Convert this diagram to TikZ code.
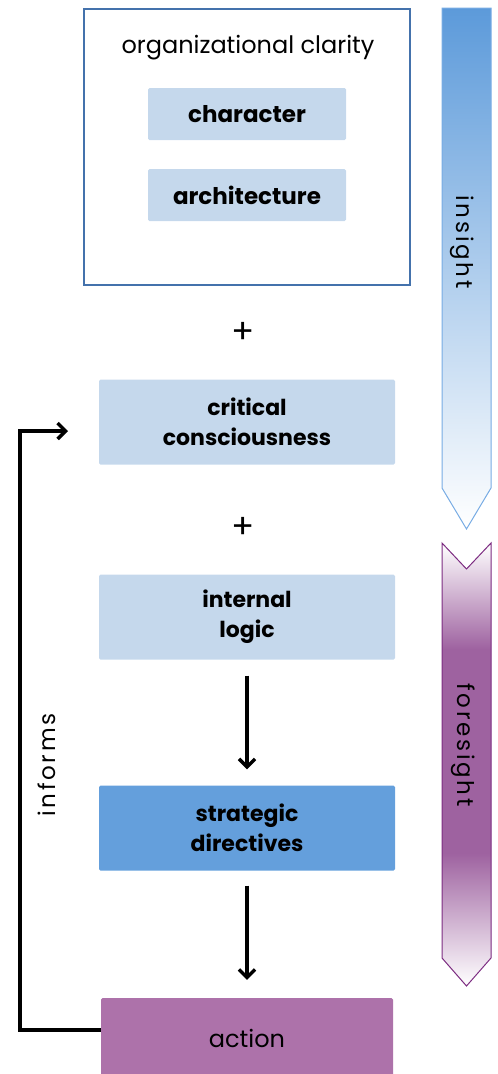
\documentclass[tikz,border=0pt]{standalone}
\usepackage{fontspec}
\setmainfont{Poppins}
\usetikzlibrary{arrows.meta}
\definecolor{blauClar}{RGB}{197,216,236}
\definecolor{blauMig}{RGB}{100,159,220}
\definecolor{liles}{RGB}{173,114,170}
\definecolor{blauVora}{RGB}{68,114,172}
\definecolor{blauFletxa}{RGB}{92,154,218}
\definecolor{blauVoraFletxa}{RGB}{120,172,228}
\definecolor{liliVora}{RGB}{125,45,130}
\definecolor{liliFletxa}{RGB}{158,98,160}
\pgfdeclareverticalshading{ombraForesight}{100bp}{color(0bp)=(white); color(25bp)=(white); color(40bp)=(liliFletxa); color(63bp)=(liliFletxa); color(75bp)=(white); color(100bp)=(white)}
\tikzstyle{caixaClara} = [rectangle, rounded corners=1.5pt, minimum width=296pt, minimum height=85pt, text centered, align=center, fill=blauClar, font=\bfseries\fontsize{22}{30}\selectfont]
\tikzstyle{caixaInterna} = [rectangle, rounded corners=1.5pt, minimum width=198pt, minimum height=52pt, text centered, fill=blauClar, font=\bfseries\fontsize{23}{26}\selectfont]
\tikzstyle{caixaMarc} = [rectangle, minimum width=326pt, minimum height=276pt, draw=blauVora, line width=1.3pt]
\tikzstyle{textNormal} = [font=\fontsize{24}{26}\selectfont]
\tikzstyle{signeMes} = [font=\fontsize{34}{34}\selectfont]
\tikzstyle{textLateral} = [font=\fontsize{23}{26}\selectfont\addfontfeature{LetterSpace=12}]
\tikzstyle{arrow} = [line width=3.4pt, -{Straight Barb[length=8pt,width=16pt]}]

\begin{document}
\begin{tikzpicture}[x=1pt, y=-1pt]
	\useasboundingbox (0,0) rectangle (498,1074);

	% fletxes laterals
	\shade[top color=blauFletxa, bottom color=white, draw=blauVoraFletxa, line width=1pt] (442,8) -- (491,8) -- (491,488) -- (466.5,529) -- (442,488) -- cycle;
	\shade[shading=ombraForesight, draw=liliVora, line width=1pt] (442,543) -- (466.5,569) -- (491,543) -- (491,958) -- (466.5,986) -- (442,958) -- cycle;
	\node (insight) [textLateral, rotate=-90] at (462,242) {insight};
	\node (foresight) [textLateral, rotate=-90] at (463,745) {foresight};

	% nodes
	\node (marc) [caixaMarc] at (247,147) {};
	\node (titolMarc) [textNormal] at (248,48) {organizational clarity};
	\node (caracter) [caixaInterna] at (247,114) {character};
	\node (arquitectura) [caixaInterna, below of=caracter, node distance=81pt] {architecture};

	\node (mes1) [signeMes] at (243,333) {+};
	\node (critica) [caixaClara] at (247,422) {critical\\consciousness};
	\node (mes2) [signeMes, below of=mes1, node distance=195pt] {+};
	\node (logica) [caixaClara, below of=critica, node distance=195pt] {internal\\logic};
	\node (directrius) [caixaClara, fill=blauMig, below of=logica, node distance=211pt] {strategic\\directives};
	\node (accio) [caixaClara, fill=liles, minimum width=292pt, minimum height=80pt, font=\fontsize{24}{26}\selectfont, below of=directrius, node distance=210pt] {action};

	% retroaccio
	\coordinate (cantonada) at (20,431);
	\coordinate (puntaInforma) at (68,431);
	\node (informa) [textLateral, rotate=90] at (47,765) {informs};

	% fletxes
	\draw [arrow, shorten <=16pt, shorten >=16pt] (logica) -- (directrius);
	\draw [arrow, shorten <=15pt, shorten >=18pt] (directrius) -- (accio);
	\draw [arrow] ([yshift=8pt]accio.west) -| (cantonada) -- (puntaInforma);
\end{tikzpicture}
\end{document}
